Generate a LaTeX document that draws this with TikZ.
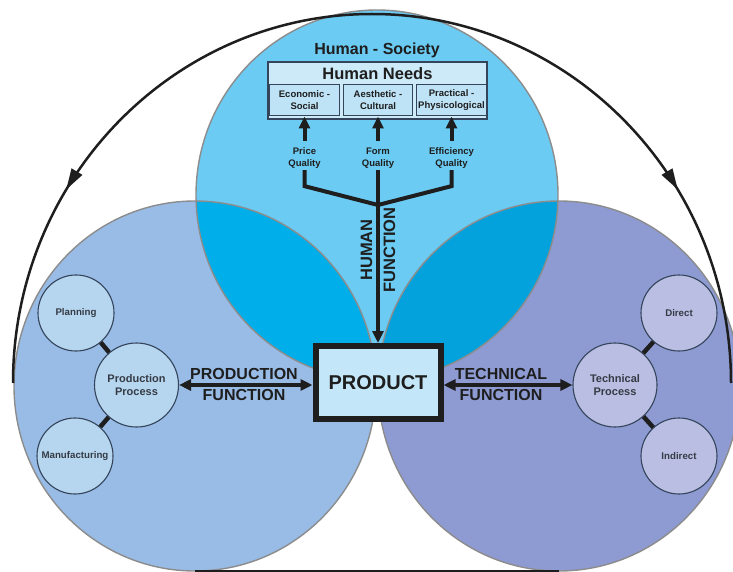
\documentclass[tikz,border=0pt]{standalone}
\usepackage{fontspec}
\setmainfont{Liberation Sans}
\usetikzlibrary{arrows.meta,backgrounds,positioning,decorations.markings}

\definecolor{humanblue}{HTML}{6BCBF3}
\definecolor{prodblue}{HTML}{98BCE6}
\definecolor{techblue}{HTML}{8E9BD3}
\definecolor{overlapL}{HTML}{00AFEA}
\definecolor{overlapR}{HTML}{04A2DD}
\definecolor{rim}{HTML}{8C8C8C}
\definecolor{rimdark}{HTML}{34445A}
\definecolor{prodfill}{HTML}{C3E6F8}
\definecolor{needsfill}{HTML}{CDEAF8}
\definecolor{needsub}{HTML}{BEE3F6}
\definecolor{subL}{HTML}{B6D6EF}
\definecolor{subR}{HTML}{B9BEE2}
\definecolor{ink}{HTML}{1E1E1E}
\definecolor{subink}{HTML}{353B45}

\tikzset{
  txt/.style = {align=center, inner sep=0pt, text centered,
    font=\bfseries, text=ink},
  ring/.style = {x radius=181, y radius=185},% the three big circles
  ring_rim/.style = {draw=rim, line width=1.4pt},
  fun_lbl/.style = {txt, font=\bfseries\fontsize{16}{21}\selectfont},
  qual_lbl/.style = {txt, inner sep=1.5pt,
    font=\bfseries\fontsize{9.5}{12}\selectfont},
  needs_frame/.style = {draw=rimdark, line width=1.2pt, fill=needsfill},
  need_sub/.style = {txt, draw=rimdark, line width=1pt, fill=needsub,
    minimum width=69.5pt, minimum height=31pt,
    font=\bfseries\fontsize{9.5}{12}\selectfont},
  sub_n/.style = {txt, circle, draw=rimdark, line width=1.1pt,
    minimum size=76pt, text=subink,
    font=\bfseries\fontsize{9.7}{12}\selectfont},% small circles
  sub_l/.style = {sub_n, fill=subL},
  sub_r/.style = {sub_n, fill=subR},
  proc_l/.style = {sub_l, minimum size=84pt,
    font=\bfseries\fontsize{11}{13.5}\selectfont},
  proc_r/.style = {sub_r, minimum size=84pt,
    font=\bfseries\fontsize{11}{13.5}\selectfont},
  prod_box/.style = {txt, draw=ink, line width=6pt, fill=prodfill,
    minimum width=125pt, minimum height=73pt,
    font=\bfseries\fontsize{20}{24}\selectfont},
  link/.style = {draw=ink, line width=4.5pt},
  fork_ln/.style = {draw=ink, line width=4pt, line join=miter},
  arr/.style = {fork_ln, -{Triangle[length=12pt,width=11pt]}},
  dbl_arr/.style = {fork_ln,
    {Triangle[length=12pt,width=11pt]}-{Triangle[length=12pt,width=11pt]}},
  cycle_arc/.style = {draw=ink, line width=2.5pt, postaction={decorate},
    decoration={markings, mark=at position 0.645 with
      {\arrow{Triangle[length=21pt,width=12pt]}}}}
}

\begin{document}
\begin{tikzpicture}[x=1pt, y=-1pt]
  \path[use as bounding box, fill=white] (0,0) rectangle (733,572);
  \coordinate (cT) at (377,195);
  \coordinate (cL) at (195,386);
  \coordinate (cR) at (559,386);
  \coordinate (apex) at (372,14);
  \coordinate (fork) at (378,205);

  % the three functions
  \fill[prodblue] (cL) circle[ring];
  \fill[techblue] (cR) circle[ring];
  \fill[humanblue] (cT) circle[ring];
  \begin{scope}
    \clip (cT) circle[ring];
    \fill[overlapL] (cL) circle[ring];
    \fill[overlapR] (cR) circle[ring];
  \end{scope}
  \draw[ring_rim] (cL) circle[ring] (cR) circle[ring] (cT) circle[ring];

  % cycle round the whole
  \draw[cycle_arc] (apex) arc[start angle=-90, end angle=-180,
    x radius=359, y radius=369];
  \draw[cycle_arc] (apex) arc[start angle=-90, end angle=0,
    x radius=359, y radius=369];
  \draw[ink, line width=3pt] (cL |- 0,571) -- (cR |- 0,571);

  % human side
  \node[txt, anchor=base, font=\bfseries\fontsize{16}{19}\selectfont]
    (society) at (377,55) {Human - Society};
  \draw[needs_frame] (268,62) rectangle (487,119);
  \node[txt, anchor=base, font=\bfseries\fontsize{16.5}{19}\selectfont]
    (needs) at (377.5,80) {Human Needs};
  \node[need_sub] (econ) at (304.5,100.5) {Economic -\\Social};
  \node[need_sub, right=3pt of econ] (cult) {Aesthetic -\\Cultural};
  \node[need_sub, right=3pt of cult] (phys) {Practical -\\Physicological};

  \node[qual_lbl] (pq) at (econ |- 0,158) {Price\\Quality};
  \node[qual_lbl] (fq) at (cult |- 0,158) {Form\\Quality};
  \node[qual_lbl] (eq) at (phys |- 0,158) {Efficiency\\Quality};
  \draw[arr, shorten <=5pt] (pq) -- (econ);
  \draw[arr, shorten <=5pt] (fq) -- (cult);
  \draw[arr, shorten <=5pt] (eq) -- (phys);
  \draw[fork_ln] (pq.south) -- ++(0,16) -- (fork);
  \draw[fork_ln] (fq.south) -- (fork);
  \draw[fork_ln] (eq.south) -- ++(0,16) -- (fork);

  \node[prod_box] (product) at (378,382.5) {PRODUCT};
  \node[fun_lbl, font=\bfseries\fontsize{16.5}{23}\selectfont, rotate=90]
    (hfun) at (378,250) {HUMAN\\FUNCTION};
  \draw[arr] (fork) -- (product);

  % production side
  \node[proc_l] (ppc) at (136.5,385) {Production\\Process};
  \node[sub_l] (plan) at (76,313) {Planning};
  \node[sub_l] (manu) at (75,456) {Manufacturing};
  \draw[link] (plan) -- (ppc) (ppc) -- (manu);
  \draw[dbl_arr] (ppc.east) -- (ppc.east -| product.west);
  \node[fun_lbl] (pfun) at (244,384.5) {PRODUCTION\\FUNCTION};

  % technical side
  \node[proc_r] (tpc) at (615,385) {Technical\\Process};
  \node[sub_r] (dir) at (679,313) {Direct};
  \node[sub_r] (ind) at (679,456) {Indirect};
  \draw[link] (dir) -- (tpc) (tpc) -- (ind);
  \draw[dbl_arr] (product.east |- tpc.west) -- (tpc.west);
  \node[fun_lbl] (tfun) at (501,384.5) {TECHNICAL\\FUNCTION};
\end{tikzpicture}
\end{document}
